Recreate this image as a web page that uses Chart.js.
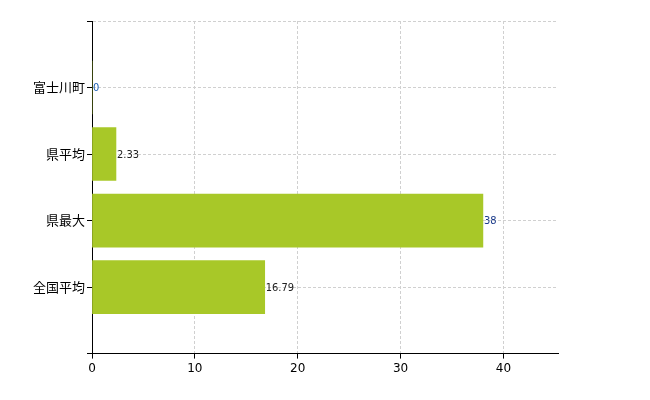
<!DOCTYPE html>
<html><head><meta charset="utf-8">
<script src="https://cdn.jsdelivr.net/npm/chart.js@4"></script>
<style>body{margin:0;background:#fff}#w{width:650px;height:400px}</style>
</head><body><div id="w"><canvas id="c"></canvas></div>
<script>
const categories = ['', '富士川町', '県平均', '県最大', '全国平均', ''];
const values = [null, 0, 2.33, 38, 16.79, null];
const valueLabels = ['', '0', '2.33', '38', '16.79', ''];
const labelColors = ['', '#1a5fb4', '#222', '#1a3a8a', '#222', ''];
const xTicks = [0, 10, 20, 30, 40];

const valPlugin = {
  id: 'vals',
  afterDatasetsDraw(chart) {
    const ctx = chart.ctx, meta = chart.getDatasetMeta(0);
    ctx.save();
    ctx.font = '11px "DejaVu Sans Condensed", "DejaVu Sans", sans-serif';
    ctx.textBaseline = 'middle';
    meta.data.forEach((el, i) => {
      if (values[i] === null) return;
      ctx.fillStyle = labelColors[i];
      ctx.fillText(valueLabels[i], el.x + 1, el.y + 1);
    });
    ctx.restore();
  }
};

new Chart(document.getElementById('c'), {
  type: 'bar',
  data: { labels: categories, datasets: [{ data: values, backgroundColor: '#a8c828', barThickness: 53 }] },
  options: {
    indexAxis: 'y', responsive: true, maintainAspectRatio: false, animation: false,
    layout: { padding: { left: 31, right: 92, top: 21, bottom: 21 } },
    plugins: { legend: { display: false }, tooltip: { enabled: false } },
    scales: {
      y: {
        offset: false,
        grid: { offset: false, color: '#d0d0d0', tickColor: '#000', tickLength: 5, drawTicks: true },
        border: { color: '#000', width: 1, dash: [3, 2] },
        ticks: { color: '#000', font: { size: 13, family: '"Noto Sans CJK JP", sans-serif' }, padding: 2 }
      },
      x: {
        min: 0, max: 45.3,
        afterBuildTicks(s) { s.ticks = xTicks.map(v => ({ value: v })); },
        grid: { color: '#d0d0d0', tickColor: '#000', tickLength: 5 },
        border: { color: '#000', width: 1, dash: [3, 2] },
        ticks: { color: '#000', font: { size: 12, family: '"DejaVu Sans", sans-serif' }, padding: 3 }
      }
    }
  },
  plugins: [valPlugin]
});
</script></body></html>
